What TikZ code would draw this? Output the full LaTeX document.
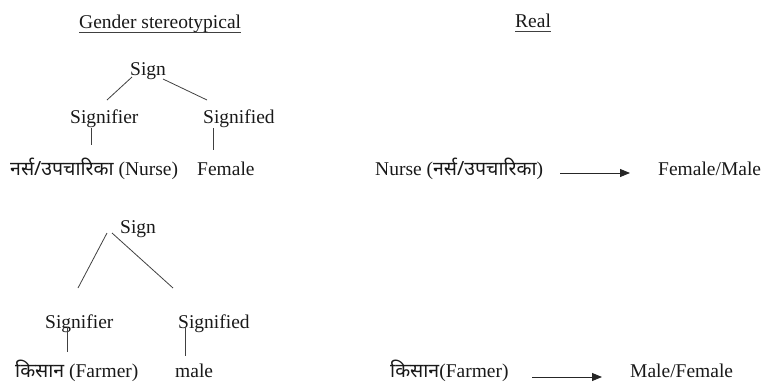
\documentclass[tikz,border=0pt]{standalone}
\usepackage{fontspec}
\setmainfont{Liberation Serif}
\newfontfamily\dev[Script=Devanagari]{Noto Sans}
\newcommand{\dv}[1]{{\dev\fontsize{19.5}{23}\selectfont #1}}
\usetikzlibrary{arrows.meta,calc}
\tikzset{
  lbl/.style={inner sep=0pt, anchor=base west, text=black!90},
  link/.style={draw=black!75, line width=0.8pt},
  arr/.style={draw=black!85, line width=0.9pt, -{Triangle[length=10pt,width=8pt]}},
  uline/.style={draw=black!75, line width=0.9pt}
}
\begin{document}
\begin{tikzpicture}[x=1pt,y=-1pt,font=\fontsize{19.5}{23}\selectfont]
\useasboundingbox (0,0) rectangle (764,383);
% headings
\node[lbl] (h1) at (79,28) {Gender stereotypical};
\draw[uline] ($(h1.base west)+(0,4)$) -- ($(h1.base east)+(0,4)$);
\node[lbl] (h2) at (515,27) {Real};
\draw[uline] ($(h2.base west)+(0,4)$) -- ($(h2.base east)+(0,4)$);
% top tree
\node[lbl] (sign1) at (130,75) {Sign};
\node[lbl] (sfr1) at (70,123) {Signifier};
\node[lbl] (sfd1) at (203,123) {Signified};
\node[lbl] (w1) at (10,175) {\dv{नर्स/उपचारिका} (Nurse)};
\node[lbl] (f1) at (197,175) {Female};
\draw[link] ($(sign1.base west)+(2,2)$) -- ($(sfr1.base west)+(37,-23)$);
\draw[link] ($(sign1.base west)+(33,4)$) -- ($(sfd1.base west)+(4,-23)$);
\draw[link] ($(sfr1.base west)+(21,5)$) -- ($(sfr1.base west)+(21,22)$);
\draw[link] ($(sfd1.base west)+(10,5)$) -- ($(sfd1.base west)+(10,27)$);
% bottom tree
\node[lbl] (sign2) at (120,233) {Sign};
\node[lbl] (sfr2) at (45,328) {Signifier};
\node[lbl] (sfd2) at (178,328) {Signified};
\node[lbl] (w2) at (15,377) {\dv{किसान} (Farmer)};
\node[lbl] (m2) at (175,377) {male};
\draw[link] ($(sign2.base west)+(-13,0)$) -- ($(sfr2.base west)+(33,-40)$);
\draw[link] ($(sign2.base west)+(-8,0)$) -- ($(sfd2.base west)+(-5,-40)$);
\draw[link] ($(sfr2.base west)+(22,-1)$) -- ($(sfr2.base west)+(22,24)$);
\draw[link] ($(sfd2.base west)+(7,-1)$) -- ($(sfd2.base west)+(7,28)$);
% real side
\node[lbl] (r1) at (375,175) {Nurse (\dv{नर्स/उपचारिका})};
\node[lbl] (r1b) at (658,175) {Female/Male};
\draw[arr] ($(r1.base west)+(185,-2)$) -- ($(r1b.base west)+(-28,-2)$);
\node[lbl] (r2) at (390,377) {\dv{किसान}(Farmer)};
\node[lbl] (r2b) at (630,377) {Male/Female};
\draw[arr] ($(r2.base west)+(142,0)$) -- ($(r2b.base west)+(-28,0)$);
\end{tikzpicture}
\end{document}
